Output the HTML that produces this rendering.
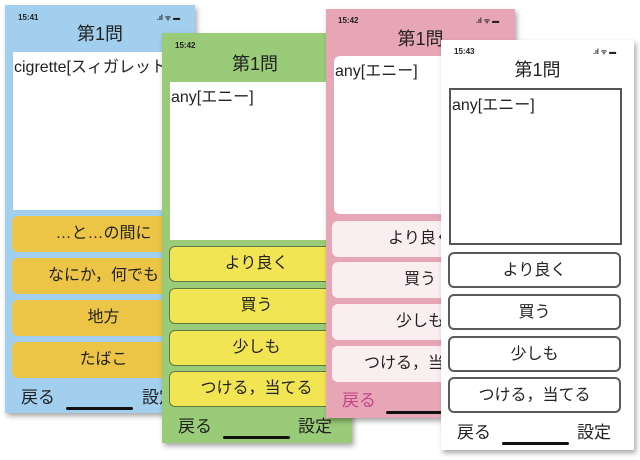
<!DOCTYPE html>
<html><head><meta charset="utf-8"><style>
*{margin:0;padding:0;box-sizing:border-box}
body{width:640px;height:460px;background:#fff;position:relative;overflow:hidden;font-family:"Liberation Sans","Noto Sans CJK JP",sans-serif;color:#222}
.ph{position:absolute;box-shadow:2px 3px 5px rgba(0,0,0,.35)}
.st{font-size:8px;font-weight:bold;position:absolute}
.ti{position:absolute;font-size:18px;text-align:center;width:100%}
.box{position:absolute;background:#fff;font-size:16px;padding:1px 1px;white-space:nowrap;overflow:hidden}
.b{position:absolute;font-size:16px;text-align:center;border-radius:6px;white-space:nowrap;overflow:hidden}
.bot{position:absolute;font-size:17px}
.hb{position:absolute;height:3px;background:#111;border-radius:2px}
.ic{position:absolute;font-size:7px;font-weight:bold}
</style></head><body>

<!-- blue -->
<div class="ph" style="left:5px;top:5px;width:190px;height:408px;background:#a1cfed">
 <div class="st" style="left:13px;top:8px">15:41</div>
 <div class="ic" style="left:152px;top:9px">.ıl ᯤ ▬</div>
 <div class="ti" style="top:15px">第1問</div>
 <div class="box" style="left:8px;top:47px;width:182px;height:158px">cigrette[スィガレット]</div>
 <div class="b" style="left:7px;top:211px;width:183px;height:36px;line-height:36px;background:#ecc446">…と…の間に</div>
 <div class="b" style="left:7px;top:253px;width:183px;height:36px;line-height:36px;background:#ecc446">なにか，何でも</div>
 <div class="b" style="left:7px;top:295px;width:183px;height:36px;line-height:36px;background:#ecc446">地方</div>
 <div class="b" style="left:7px;top:337px;width:183px;height:36px;line-height:36px;background:#ecc446">たばこ</div>
 <div class="bot" style="left:16px;top:378px">戻る</div>
 <div class="bot" style="left:137px;top:378px">設定</div>
 <div class="hb" style="left:61px;top:402px;width:67px"></div>
</div>

<!-- green -->
<div class="ph" style="left:162px;top:33px;width:190px;height:410px;background:#9acb79">
 <div class="st" style="left:13px;top:8px">15:42</div>
 <div class="ti" style="left:-2px;top:17px">第1問</div>
 <div class="box" style="left:8px;top:49px;width:182px;height:158px">any[エニー]</div>
 <div class="b" style="left:7px;top:213px;width:175px;height:36px;line-height:33px;background:#f2e553;border:1.5px solid #5f7a3e">より良く</div>
 <div class="b" style="left:7px;top:255px;width:175px;height:36px;line-height:33px;background:#f2e553;border:1.5px solid #5f7a3e">買う</div>
 <div class="b" style="left:7px;top:297px;width:175px;height:36px;line-height:33px;background:#f2e553;border:1.5px solid #5f7a3e">少しも</div>
 <div class="b" style="left:7px;top:338px;width:175px;height:36px;line-height:33px;background:#f2e553;border:1.5px solid #5f7a3e">つける，当てる</div>
 <div class="bot" style="left:16px;top:379px">戻る</div>
 <div class="bot" style="left:136px;top:379px">設定</div>
 <div class="hb" style="left:61px;top:403px;width:67px"></div>
</div>

<!-- pink -->
<div class="ph" style="left:326px;top:9px;width:189px;height:409px;background:#e7a6b6">
 <div class="st" style="left:12px;top:7px">15:42</div>
 <div class="ic" style="left:150px;top:8px">.ıl ᯤ ▬</div>
 <div class="ti" style="top:16px">第1問</div>
 <div class="box" style="left:8px;top:47px;width:174px;height:158px;border-radius:6px">any[エニー]</div>
 <div class="b" style="left:6px;top:212px;width:176px;height:36px;line-height:36px;background:#fbeef0">より良く</div>
 <div class="b" style="left:6px;top:253px;width:176px;height:36px;line-height:36px;background:#fbeef0">買う</div>
 <div class="b" style="left:6px;top:295px;width:176px;height:36px;line-height:36px;background:#fbeef0">少しも</div>
 <div class="b" style="left:6px;top:337px;width:176px;height:36px;line-height:36px;background:#fbeef0">つける，当てる</div>
 <div class="bot" style="left:16px;top:377px;color:#c5458d">戻る</div>
 <div class="hb" style="left:60px;top:402px;width:67px"></div>
</div>

<!-- white -->
<div class="ph" style="left:441px;top:40px;width:193px;height:410px;background:#fff">
 <div class="st" style="left:13px;top:7px">15:43</div>
 <div class="ic" style="left:152px;top:8px">.ıl ᯤ ▬</div>
 <div class="ti" style="top:16px">第1問</div>
 <div class="box" style="left:8px;top:48px;width:173px;height:157px;border:2px solid #555;padding:1px 1px">any[エニー]</div>
 <div class="b" style="left:7px;top:212px;width:173px;height:36px;line-height:33px;background:#fff;border:2px solid #5a5a5a">より良く</div>
 <div class="b" style="left:7px;top:254px;width:173px;height:36px;line-height:33px;background:#fff;border:2px solid #5a5a5a">買う</div>
 <div class="b" style="left:7px;top:296px;width:173px;height:36px;line-height:33px;background:#fff;border:2px solid #5a5a5a">少しも</div>
 <div class="b" style="left:7px;top:337px;width:173px;height:36px;line-height:33px;background:#fff;border:2px solid #5a5a5a">つける，当てる</div>
 <div class="bot" style="left:16px;top:378px">戻る</div>
 <div class="bot" style="left:136px;top:378px">設定</div>
 <div class="hb" style="left:61px;top:402px;width:67px"></div>
</div>

</body></html>
